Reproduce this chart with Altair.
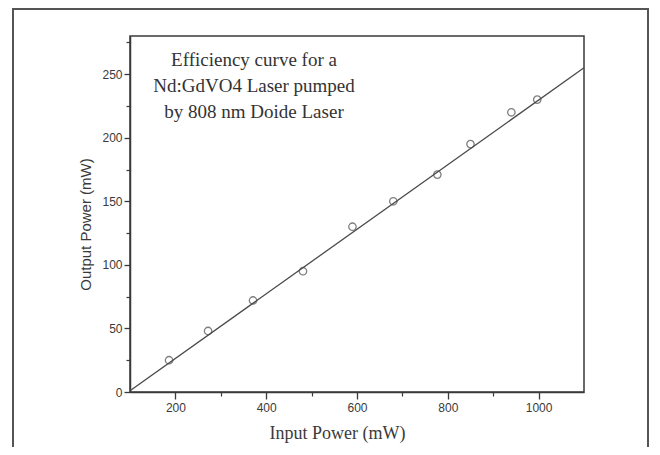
import altair as alt
import pandas as pd

input_power = [186, 272, 371, 481, 590, 680, 777, 850, 940, 997]
output_power = [25, 48, 72, 95, 130, 150, 171, 195, 220, 230]

# Fitted straight line (end points)
fit_x = [100, 1100]
fit_y = [1, 255]

x_major = [200, 400, 600, 800, 1000]
x_minor = [300, 500, 700, 900]
y_major = [0, 50, 100, 150, 200, 250]
y_minor = [25, 75, 125, 175, 225, 275]

annotation = ["Efficiency curve for a", "Nd:GdVO4 Laser pumped", "by 808 nm Doide Laser"]

pts = pd.DataFrame({"x": input_power, "y": output_power})
fit = pd.DataFrame({"x": fit_x, "y": fit_y})

INK = "#3a3a3a"
SERIF = "Liberation Serif"
SANS = "'Liberation Sans Narrow', 'Liberation Sans', sans-serif"

xs = alt.Scale(domain=[100, 1100], nice=False, zero=False)
ys = alt.Scale(domain=[0, 280], nice=False)

x_axis_major = alt.Axis(orient="bottom", values=x_major, format="d", title="Input Power (mW)", grid=False,
                        tickSize=7, tickColor=INK, tickWidth=1.3,
                        domainColor=INK, domainWidth=1.5,
                        labelFont=SANS, labelFontSize=12, labelColor=INK, labelPadding=3,
                        titleFont=SERIF, titleFontSize=18, titleFontWeight="normal",
                        titleColor=INK, titleX=207, titleY=46, titleAlign="center",
                        titleBaseline="alphabetic")
y_axis_major = alt.Axis(orient="left", values=y_major, format="d", title="Output Power (mW)", grid=False,
                        tickSize=6, tickColor=INK, tickWidth=1.3,
                        domainColor=INK, domainWidth=1.5,
                        labelFont=SANS, labelFontSize=12, labelColor=INK, labelPadding=2,
                        titleFont=SANS, titleFontSize=15, titleFontWeight="normal",
                        titleColor=INK, titleX=-45, titleY=188, titleAlign="center",
                        titleBaseline="middle")

x_axis_minor = alt.Axis(orient="bottom", values=x_minor, title=None, labels=False, domain=False, grid=False,
                        tickSize=4, tickColor=INK, tickWidth=1.2)
y_axis_minor = alt.Axis(orient="left", values=y_minor, title=None, labels=False, domain=False, grid=False,
                        tickSize=4, tickColor=INK, tickWidth=1.2)

points = alt.Chart(pts).mark_point(shape="circle", filled=False, size=55,
                                   color="#4a4a4a", strokeWidth=1.3).encode(
    x=alt.X("x:Q", scale=xs, axis=x_axis_major),
    y=alt.Y("y:Q", scale=ys, axis=y_axis_major),
)

line = alt.Chart(fit).mark_line(color="#4a4a4a", strokeWidth=1.3).encode(
    x=alt.X("x:Q", scale=xs, axis=x_axis_minor),
    y=alt.Y("y:Q", scale=ys, axis=y_axis_minor),
)

text = alt.Chart(pd.DataFrame({"t": [0]})).mark_text(
    font=SERIF, fontSize=19, color="#333333", align="center", baseline="top",
    lineHeight=26,
).encode(x=alt.value(124), y=alt.value(15), text=alt.value(annotation))

frame = alt.Chart(pd.DataFrame({"t": [0]})).mark_rect(
    fill=None, stroke="#555555", strokeWidth=2,
).encode(x=alt.value(-117), x2=alt.value(518), y=alt.value(-27), y2=alt.value(412))

chart = alt.layer(frame, line, points, text).resolve_axis(
    x="independent", y="independent"
).properties(
    width=454, height=356,
    autosize=alt.AutoSizeParams(type="none"),
    padding={"left": 122, "top": 28, "right": 68, "bottom": 55},
    background="white",
).configure_view(stroke=INK, strokeWidth=1.5)

chart.save("out.html", embed_options={"renderer": "svg", "actions": False})
